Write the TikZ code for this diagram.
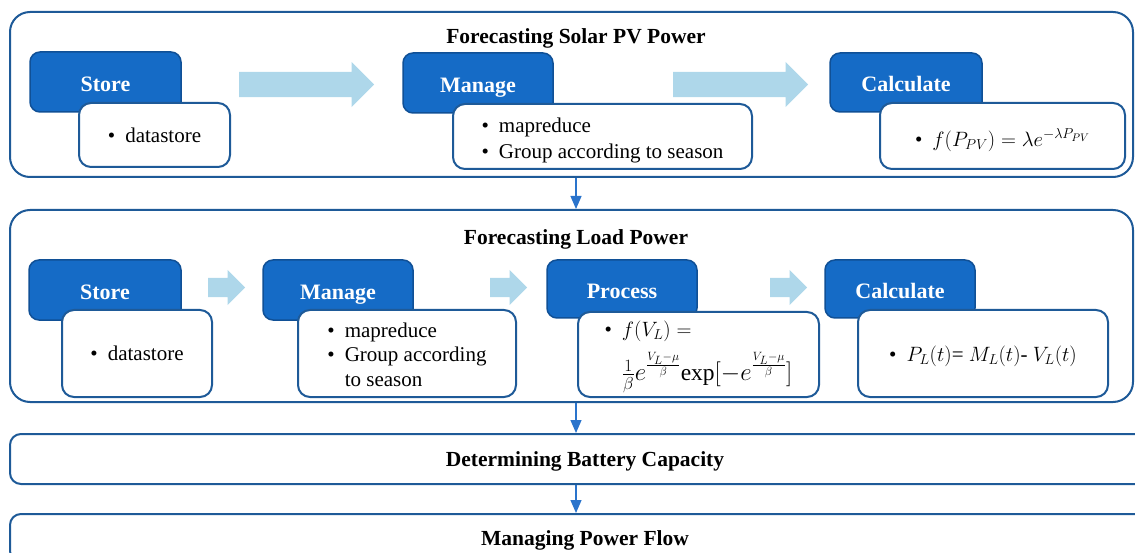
\documentclass[tikz,border=0pt]{standalone}
\usepackage{fontspec}
\setmainfont{Liberation Serif}
\usetikzlibrary{arrows.meta,shapes.arrows}

\definecolor{frameblue}{RGB}{30,90,152}
\definecolor{boxblue}{RGB}{21,107,198}
\definecolor{boxedge}{RGB}{16,80,150}
\definecolor{flowfill}{RGB}{174,215,234}
\definecolor{connblue}{RGB}{42,116,204}

% box given by its corners: name, style, x1, y1, x2, y2, text
\newcommand\cornerbox[7]{%
  \node[#2, minimum width={(#5)-(#3)}, minimum height={(#6)-(#4)}]
    (#1) at ({((#3)+(#5))/2},{((#4)+(#6))/2}) {#7};}

\tikzset{
  container/.style={draw=frameblue, line width=2pt, rounded corners=20pt, inner sep=0pt},
  band/.style={draw=frameblue, line width=2pt, rounded corners=11pt, inner sep=0pt,
    font=\fontsize{21.5}{26}\selectfont\bfseries, text height=18pt, text depth=2.5pt},
  headbox/.style={draw=boxedge, line width=1.5pt, fill=boxblue, rounded corners=10pt,
    inner sep=0pt, text=white, font=\fontsize{22}{26}\selectfont\bfseries,
    text height=22pt, text depth=3pt},
  bodybox/.style={draw=frameblue, line width=2pt, fill=white, rounded corners=12pt,
    inner sep=0pt, font=\fontsize{21}{25.5}\selectfont},
  boxtitle/.style={font=\fontsize{21.5}{26}\selectfont\bfseries, inner sep=0pt},
  bigflow/.style={single arrow, fill=flowfill, draw=none, inner xsep=0pt,
    inner ysep=12.5pt, single arrow head extend=10pt, single arrow tip angle=90,
    minimum height=135pt, anchor=west},
  smallflow/.style={single arrow, fill=flowfill, draw=none, inner xsep=0pt,
    inner ysep=9.5pt, single arrow head extend=8pt, single arrow tip angle=90,
    minimum height=37pt, anchor=west},
  conn/.style={draw=connblue, line width=1.2pt, -{Triangle[width=11pt,length=13pt]}},
}

\newcommand\bul{\textbullet}
% shift text down without changing the box that the node centres
\newcommand\dropby[2]{\raisebox{-#1pt}[\height][\depth]{#2}}

\begin{document}
\begin{tikzpicture}[x=1pt, y=-1pt]
\useasboundingbox (0,0) rectangle (1135,553);
\clip (0,0) rectangle (1135,553);

% ---------- Forecasting Solar PV Power ----------
\cornerbox{pv}{container}{10}{12}{1133}{177}{}
\node[boxtitle] (pvtitle) at (576,38) {Forecasting Solar PV Power};

\cornerbox{pvstoreh}{headbox}{30}{52}{181}{112}{Store}
\cornerbox{pvstoreb}{bodybox}{79}{103}{230}{167}{\bul\hspace{10pt}datastore}

\cornerbox{pvmanh}{headbox}{403}{53}{553}{113}{Manage}
\cornerbox{pvmanb}{bodybox}{453}{104}{752}{169}{\dropby{4}{%
  \begin{tabular}{@{}l@{\hspace{10pt}}l@{}}
  \bul & mapreduce\\[1pt]
  \bul & Group according to season
  \end{tabular}}}

\cornerbox{pvcalch}{headbox}{830}{53}{982}{112}{Calculate}
\cornerbox{pvcalcb}{bodybox}{880}{103}{1125}{169}{\dropby{4}{%
  \bul\hspace{10pt}$f(P_{PV})=\lambda e^{-\lambda P_{PV}}$}\hspace{8pt}}

\node[bigflow] (pvfa) at (239,84.5) {};
\node[bigflow] (pvfb) at (673,84.5) {};

% ---------- Forecasting Load Power ----------
\cornerbox{ld}{container}{10}{210}{1133}{402}{}
\node[boxtitle] (ldtitle) at (576,239) {Forecasting Load Power};

\cornerbox{ldstoreh}{headbox}{29}{260}{181}{320}{Store}
\cornerbox{ldstoreb}{bodybox}{62}{310}{212}{397}{\bul\hspace{10pt}datastore}

\cornerbox{ldmanh}{headbox}{263}{260}{413}{320}{Manage}
\cornerbox{ldmanb}{bodybox}{298}{310}{516}{397}{\dropby{3}{%
  \begin{tabular}{@{}l@{\hspace{10pt}}l@{}}
  \bul & mapreduce\\[-1pt]
  \bul & Group according\\[-1pt]
       & to season
  \end{tabular}}\hspace{6pt}}

\cornerbox{ldproch}{headbox}{547}{260}{697}{318}{Process}
\cornerbox{ldprocb}{bodybox}{578}{312}{819}{397}{\dropby{1}{%
  \begin{tabular}{@{}l@{\hspace{10pt}}l@{}}
  \bul & $f(V_L) =$\\[9pt]
       & \fontsize{23.5}{28}\selectfont
         $\frac{1}{\beta}e^{\frac{V_L-\mu}{\beta}}\mathrm{exp}[-e^{\frac{V_L-\mu}{\beta}}]$
  \end{tabular}}\hspace{8pt}}

\cornerbox{ldcalch}{headbox}{825}{260}{975}{318}{Calculate}
\cornerbox{ldcalcb}{bodybox}{858}{310}{1108}{397}{\dropby{3}{%
  \bul\hspace{10pt}$P_L(t)$= $M_L(t)$- $V_L(t)$}\hspace{6pt}}

\node[smallflow] (ldfa) at (208,287.5) {};
\node[smallflow] (ldfb) at (490,287.5) {};
\node[smallflow] (ldfc) at (770,287.5) {};

% ---------- lower stages ----------
\cornerbox{batt}{band}{10}{434}{1160}{484}{Determining Battery Capacity}
\cornerbox{flow}{band}{10}{514}{1160}{562}{Managing Power Flow}

% ---------- connectors ----------
\draw[conn] (pv.south -| pvtitle.south) -- (ld.north -| pvtitle.south);
\draw[conn] (ld.south -| pvtitle.south) -- (batt.north -| pvtitle.south);
\draw[conn] (batt.south -| pvtitle.south) -- (flow.north -| pvtitle.south);
\end{tikzpicture}
\end{document}
